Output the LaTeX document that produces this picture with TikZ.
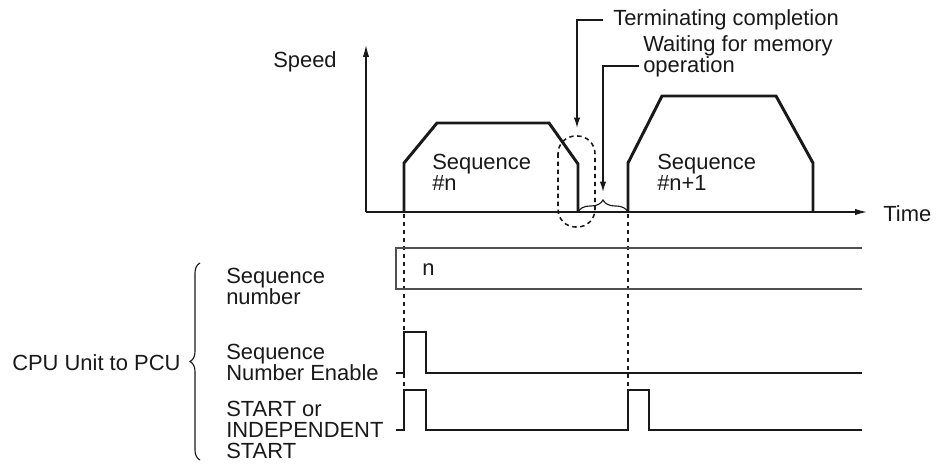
\documentclass[tikz,border=0pt]{standalone}
\usepackage{fontspec}
\setmainfont{Liberation Sans}
\usetikzlibrary{arrows.meta, decorations.pathreplacing, calc}
\definecolor{mydark}{RGB}{25,25,25}
\definecolor{mybus}{RGB}{80,80,80}
\tikzset{
  lbl/.style={inner sep=0pt, anchor=west, align=left, text=mydark,
    font=\fontsize{15.6}{15}\selectfont},
  axis/.style={line width=0.9pt, color=mydark, -{Latex[length=3mm, width=1.6mm]}},
  callout/.style={line width=0.9pt, color=mydark, -{Latex[length=2.6mm, width=1.6mm]}},
  profile/.style={line width=2.1pt, color=mydark, line join=miter},
  signal/.style={line width=1.9pt, color=mydark, line join=miter},
  bus/.style={line width=1.3pt, color=mybus},
  guide/.style={line width=1.6pt, color=mydark, dash pattern=on 1.1mm off 0.9mm},
  bracket/.style={line width=0.8pt, color=mydark, decorate,
    decoration={brace, amplitude=#1}}
}
\begin{document}
\begin{tikzpicture}[x=0.25mm, y=-0.25mm]
  \useasboundingbox (0,0) rectangle (938,464);

  % Axes
  \coordinate (o) at (366,212);
  \coordinate (vtop) at (366,45);
  \coordinate (hend) at (867,212);
  \draw[axis] (o) -- (vtop);
  \draw[axis] (o) -- (hend);
  \node[lbl] (speedlbl) at (273,62) {Speed};
  \node[lbl] (timelbl) at (883,214) {Time};

  % Speed profiles
  \draw[profile] (404,212) -- (404,163) -- (437,123) -- (549,123) -- (578,164) -- (578,212);
  \draw[profile] (628,212) -- (628,163) -- (662,96) -- (776,96) -- (813,163) -- (813,212);
  \node[lbl] (seqn) at (432,172) {Sequence\\\#n};
  \node[lbl] (seqnn) at (657,172) {Sequence\\\#n+1};

  % Terminating completion / waiting time
  \draw[guide, line width=1.1pt, rounded corners=4.4mm] (558,136) rectangle (595,227);
  \draw[bracket=3mm] (578,212) -- (628,212);
  \coordinate (termtip) at (577,128);
  \coordinate (waittip) at (603,192);
  \node[lbl] (term) at (613,20) {Terminating completion};
  \node[lbl] (wait) at (643,56) {Waiting for memory\\operation};
  \draw[callout] ($(term.west)+(-10,0)$) -| (termtip);
  \draw[callout] ($(wait.west)+(-4,10)$) -| (waittip);

  % Timing guides
  \draw[guide] (404,214) -- (404,390);
  \draw[guide] (628,214) -- (628,390);

  % Signals
  \draw[bus] (862,248) -- (396,248) -- (396,289) -- (862,289);
  \node[lbl] (nlbl) at (422,270) {n};
  \draw[signal] (396,373) -- (404,373) -- (404,332) -- (426,332) -- (426,373) -- (862,373);
  \draw[signal] (396,430) -- (404,430) -- (404,390) -- (426,390) -- (426,430)
    -- (628,430) -- (628,390) -- (649,390) -- (649,430) -- (862,430);

  % Signal names
  \node[lbl] (lblnum) at (226,286) {Sequence\\number};
  \node[lbl] (lblena) at (226,362) {Sequence\\Number Enable};
  \node[lbl] (lblstart) at (226,430) {START or\\INDEPENDENT\\START};
  \draw[bracket=2.5mm] (200,460) -- (200,263);
  \node[lbl] (cpulbl) at (12,363) {CPU Unit to PCU};
\end{tikzpicture}
\end{document}
